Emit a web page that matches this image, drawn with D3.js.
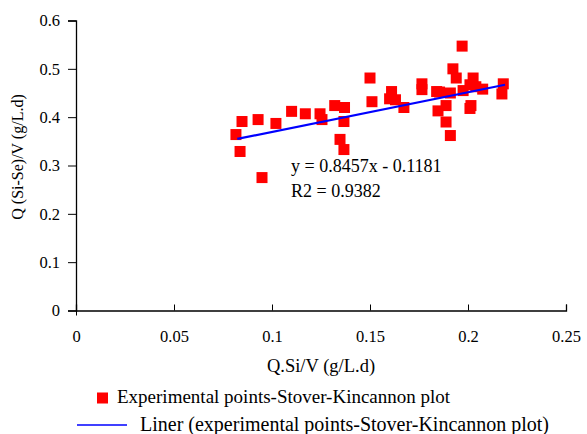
<!DOCTYPE html>
<html>
<head>
<meta charset="utf-8">
<script src="https://cdn.jsdelivr.net/npm/d3@7"></script>
</head>
<body style="margin:0">
<script>
// experimental points
var xValues = [0.0816, 0.0847, 0.0837, 0.0929, 0.0949, 0.102, 0.110, 0.117, 0.1245, 0.1255,
  0.132, 0.137, 0.1367, 0.1347, 0.1367, 0.150, 0.151, 0.161, 0.160, 0.163,
  0.1673, 0.1765, 0.1765, 0.184, 0.191, 0.197, 0.1923, 0.194, 0.2026, 0.201,
  0.204, 0.2075, 0.1975, 0.1888, 0.1847, 0.2015, 0.201, 0.1888, 0.191, 0.218,
  0.2173, 0.1855];
var yValues = [0.364, 0.391, 0.329, 0.395, 0.275, 0.387, 0.412, 0.407, 0.407, 0.395,
  0.424, 0.420, 0.391, 0.354, 0.333, 0.481, 0.432, 0.453, 0.438, 0.436,
  0.420, 0.469, 0.457, 0.453, 0.450, 0.547, 0.500, 0.481, 0.481, 0.467,
  0.463, 0.458, 0.455, 0.424, 0.413, 0.424, 0.418, 0.390, 0.362, 0.469,
  0.448, 0.452];

// fitted line as drawn
var trendX = [0.0823, 0.2189];
var trendY = [0.355, 0.467];

var xTicks = [0, 0.05, 0.1, 0.15, 0.2, 0.25];
var yTicks = [0, 0.1, 0.2, 0.3, 0.4, 0.5, 0.6];

var eqLabel = 'y = 0.8457x - 0.1181';
var r2Label = 'R2 = 0.9382';
var xTitle = 'Q.Si/V (g/L.d)';
var yTitle = 'Q (Si-Se)/V  (g/L.d)';
var legendLabels = ['Experimental points-Stover-Kincannon plot',
  'Liner (experimental points-Stover-Kincannon plot)'];

var serif = 'Times';

var options = {
  width: 587,
  height: 434,
  left: 76,
  right: 566,
  top: 20.5,
  bottom: 310.5,
  marker: 11
};

function setFont(sel, size) {
  return sel
    .attr('font-family', serif)
    .attr('font-size', size)
    .attr('fill', '#000');
}

function label(svg, x, y, size, txt) {
  return setFont(svg.append('text').attr('x', x).attr('y', y), size).text(txt);
}

function draw(options) {
  var svg = d3.select('body')
    .append('svg')
    .attr('width', options.width)
    .attr('height', options.height)
    .attr('font-family', serif);

  var x = d3.scaleLinear().domain([0, 0.25]).range([options.left, options.right]);
  var y = d3.scaleLinear().domain([0, 0.6]).range([options.bottom, options.top]);

  // y axis, ticks outward
  var yAxis = svg.append('g')
    .attr('transform', 'translate(' + options.left + ',0)')
    .call(d3.axisLeft(y).tickValues(yTicks).tickSize(8).tickPadding(8).tickFormat(d3.format('')));

  // x axis, ticks inward
  var xAxis = svg.append('g')
    .attr('transform', 'translate(0,' + options.bottom + ')')
    .call(d3.axisBottom(x).tickValues(xTicks).tickSize(-6).tickPadding(20).tickFormat(d3.format('')));
  xAxis.select('.tick line').attr('y1', 5).attr('y2', -6);

  yAxis.attr('font-family', serif).attr('font-size', 16.5);
  xAxis.attr('font-family', serif).attr('font-size', 16.5);
  svg.selectAll('.domain').attr('stroke', '#000').attr('stroke-width', 1.3);
  svg.selectAll('.tick line').attr('stroke', '#000');
  setFont(svg.selectAll('.tick text'), 16.5);

  // points
  var pts = d3.range(xValues.length).map(function(i) { return [xValues[i], yValues[i]]; });
  svg.append('g').selectAll('rect')
    .data(pts)
    .enter().append('rect')
    .attr('x', function(d) { return x(d[0]) - options.marker / 2; })
    .attr('y', function(d) { return y(d[1]) - options.marker / 2; })
    .attr('width', options.marker)
    .attr('height', options.marker)
    .style('fill', '#ff0000');

  // trend line
  svg.append('line')
    .attr('x1', x(trendX[0])).attr('y1', y(trendY[0]))
    .attr('x2', x(trendX[1])).attr('y2', y(trendY[1]))
    .style('stroke', '#0000ff')
    .style('stroke-width', 2.2);

  label(svg, 291, 172, 18, eqLabel);
  label(svg, 291, 197, 18, r2Label);

  // axis titles
  label(svg, 321, 372, 18.5, xTitle).attr('text-anchor', 'middle');
  label(svg, 0, 0, 16, yTitle)
    .attr('transform', 'translate(23,157) rotate(-90)')
    .attr('text-anchor', 'middle');

  // legend
  svg.append('rect')
    .attr('x', 97).attr('y', 392.5)
    .attr('width', options.marker).attr('height', options.marker)
    .style('fill', '#ff0000');
  label(svg, 117, 403, 19, legendLabels[0]);
  svg.append('line')
    .attr('x1', 77).attr('x2', 127).attr('y1', 425).attr('y2', 425)
    .style('stroke', '#0000ff').style('stroke-width', 1.5);
  label(svg, 140, 431, 20, legendLabels[1]);
}

draw(options);
</script>
</body>
</html>
